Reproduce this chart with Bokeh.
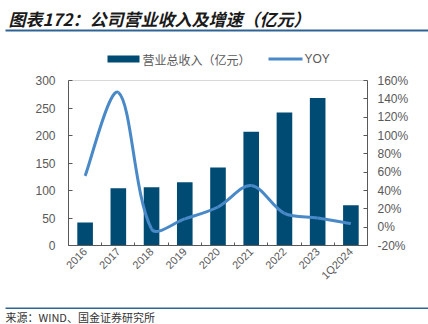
import math
from bokeh.plotting import figure
from bokeh.models import (Range1d, LinearAxis, FixedTicker, Label, ColumnDataSource,
                          CustomJSTickFormatter)
from bokeh.layouts import column
from bokeh.embed import file_html
from bokeh.resources import INLINE

categories = ["2016", "2017", "2018", "2019", "2020", "2021", "2022", "2023", "1Q2024"]
revenue = [42, 104, 106, 115, 142, 207, 242, 268, 73]
yoy = [56, 147, -2, 9, 22, 45.5, 15, 10, 4]
left_ticks = [0, 50, 100, 150, 200, 250, 300]
right_ticks = [-20, 0, 20, 40, 60, 80, 100, 120, 140, 160]
title_text = "图表172：公司营业收入及增速（亿元）"
legend_labels = ["营业总收入（亿元）", "YOY"]
source_text = "来源：WIND、国金证券研究所"

BAR = "#004B73"
LINE = "#4A89C8"
GRAY = "#595959"
RULE = "#2E6494"
FONT = "Liberation Sans"
CJK = "Noto Sans CJK SC"
W = 428


def bare(h):
    f = figure(width=W, height=h, output_backend="svg", toolbar_location=None,
               x_range=Range1d(0, W), y_range=Range1d(0, h), min_border=0,
               x_axis_location=None, y_axis_location=None, frame_align=False)
    f.grid.visible = False
    f.outline_line_color = None
    f.background_fill_color = "white"
    f.border_fill_color = "white"
    return f


# ---------- header: title, rule, legend ----------
top = bare(72)
top.add_layout(Label(x=8, y=54, text=title_text, text_font=CJK, text_font_size="17px",
                     text_font_style="bold italic", text_color="#1a1a1a",
                     text_baseline="middle", text_align="left"))
top.quad(left=5, right=W, top=43, bottom=41, fill_color=RULE, line_color=None)
top.quad(left=107, right=139, top=17, bottom=10, fill_color=BAR, line_color=None)
top.add_layout(Label(x=142, y=13.5, text=legend_labels[0], text_font=CJK, text_font_size="12px",
                     text_color=GRAY, text_baseline="middle", text_align="left"))
top.segment(x0=[268], y0=[13.5], x1=[302], y1=[13.5], line_color=LINE, line_width=3)
top.add_layout(Label(x=304, y=13.5, text=legend_labels[1], text_font=FONT, text_font_size="12px",
                     text_color=GRAY, text_baseline="middle", text_align="left"))

# ---------- main chart ----------
n = len(categories)
centers = [i + 0.5 for i in range(n)]

p = figure(width=W, height=228, output_backend="svg", toolbar_location=None,
           x_range=Range1d(0, n), y_range=Range1d(0, 300),
           min_border_left=68, min_border_right=61, min_border_top=8, min_border_bottom=55,
           x_axis_location=None, y_axis_location=None, frame_align=False)
p.extra_y_ranges = {"yoy": Range1d(-20, 160)}
p.grid.visible = False
p.outline_line_color = "#D9D9D9"
p.background_fill_color = "white"
p.border_fill_color = "white"

p.vbar(x=centers, top=revenue, width=0.47, fill_color=BAR, line_color=None)

# Excel-like smoothed line: bezier segments, tangents scaled by chord lengths (in pixels)
px_x = 299 / n
px_y = 165 / 180.0
sx = [c * px_x for c in centers]
sy = [v * px_y for v in yoy]


def dist(i, j):
    return math.hypot(sx[j] - sx[i], sy[j] - sy[i])


cout, cin = [], []
for i in range(n):
    a, b = max(i - 1, 0), min(i + 1, n - 1)
    tx, ty = centers[b] - centers[a], yoy[b] - yoy[a]
    dp = dist(a, i) if i > 0 else 0.0
    dn = dist(i, b) if i < n - 1 else 0.0
    tot = dp + dn if dp + dn > 0 else 1.0
    kout = dn / tot / 3.0 if i > 0 else 1 / 6
    kin = dp / tot / 3.0 if i < n - 1 else 1 / 6
    cout.append((centers[i] + tx * kout, yoy[i] + ty * kout))
    cin.append((centers[i] - tx * kin, yoy[i] - ty * kin))

src = ColumnDataSource(dict(
    x0=centers[:-1], y0=yoy[:-1], x1=centers[1:], y1=yoy[1:],
    cx0=[c[0] for c in cout[:-1]], cy0=[c[1] for c in cout[:-1]],
    cx1=[c[0] for c in cin[1:]], cy1=[c[1] for c in cin[1:]]))
p.bezier(x0="x0", y0="y0", x1="x1", y1="y1", cx0="cx0", cy0="cy0", cx1="cx1", cy1="cy1",
         source=src, line_color=LINE, line_width=3, y_range_name="yoy")

xaxis = LinearAxis(ticker=FixedTicker(ticks=centers, minor_ticks=list(range(n + 1))))
xaxis.major_label_overrides = {c: lab for c, lab in zip(centers, categories)}
xaxis.major_label_orientation = math.pi / 4
xaxis.major_tick_in = 0
xaxis.major_tick_out = 0
xaxis.minor_tick_in = 3
xaxis.minor_tick_out = 0
xaxis.axis_line_color = GRAY
xaxis.minor_tick_line_color = GRAY
xaxis.major_label_text_color = GRAY
xaxis.major_label_text_font = FONT
xaxis.major_label_text_font_size = "11px"
xaxis.major_label_standoff = 4
p.add_layout(xaxis, "below")

laxis = LinearAxis(ticker=FixedTicker(ticks=left_ticks, minor_ticks=[]))
laxis.major_tick_in = 4
laxis.major_tick_out = 0
laxis.axis_line_color = GRAY
laxis.major_tick_line_color = GRAY
laxis.major_label_text_color = GRAY
laxis.major_label_text_font = FONT
laxis.major_label_text_font_size = "12px"
laxis.major_label_standoff = 13
p.add_layout(laxis, "left")

raxis = LinearAxis(y_range_name="yoy", ticker=FixedTicker(ticks=right_ticks, minor_ticks=[]))
raxis.formatter = CustomJSTickFormatter(code="return tick + '%';")
raxis.major_tick_in = 4
raxis.major_tick_out = 0
raxis.axis_line_color = GRAY
raxis.major_tick_line_color = GRAY
raxis.major_label_text_color = GRAY
raxis.major_label_text_font = FONT
raxis.major_label_text_font_size = "12px"
raxis.major_label_standoff = 10
p.add_layout(raxis, "right")

# ---------- footer: rule, source ----------
bot = bare(24)
bot.quad(left=5, right=W, top=17, bottom=15.5, fill_color=RULE, line_color=None)
bot.add_layout(Label(x=5, y=7.5, text=source_text, text_font=CJK, text_font_size="11px",
                     text_color="#333333", text_baseline="middle", text_align="left"))

layout = column(top, p, bot, spacing=0)
open("out.html", "w").write(file_html(layout, INLINE))
